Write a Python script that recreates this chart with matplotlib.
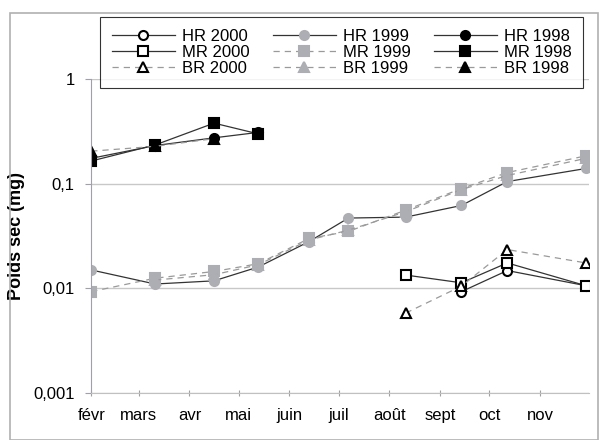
import numpy as np
import pandas as pd
import matplotlib
matplotlib.use("Agg")
import matplotlib.pyplot as plt
from matplotlib.patches import Rectangle

plt.rcParams['font.family'] = ['Liberation Sans', 'DejaVu Sans']

# sampling dates (day-month, plotted on a common year)
dates = ["02-01", "03-11", "04-16", "05-13", "06-13", "07-07", "08-11", "09-14", "10-12", "11-29"]
month_labels = ["févr", "mars", "avr", "mai", "juin", "juil", "août", "sept", "oct", "nov"]
nan = np.nan

# dry weight (mg)
hr2000 = [nan, nan, nan, nan, nan, nan, nan, 0.0093, 0.0148, 0.0106]
mr2000 = [nan, nan, nan, nan, nan, nan, 0.0134, 0.0113, 0.0175, 0.0106]
br2000 = [nan, nan, nan, nan, nan, nan, 0.0058, 0.0105, 0.0235, 0.0175]

hr1999 = [0.015, 0.011, 0.0118, 0.016, 0.028, 0.047, 0.048, 0.062, 0.105, 0.14]
mr1999 = [0.0093, 0.0125, 0.0145, 0.0172, 0.030, 0.035, 0.056, 0.09, 0.128, 0.185]
br1999 = [nan, 0.012, 0.0135, 0.0168, 0.029, 0.036, 0.054, 0.088, 0.12, 0.175]

hr1998 = [0.175, 0.232, 0.275, 0.31, nan, nan, nan, nan, nan, nan]
mr1998 = [0.165, 0.235, 0.38, 0.30, nan, nan, nan, nan, nan, nan]
br1998 = [0.205, 0.228, 0.27, nan, nan, nan, nan, nan, nan, nan]

x = pd.to_datetime(["2000-" + d for d in dates])

fig = plt.figure(figsize=(6, 4.4), dpi=100)
ax = fig.add_axes([0.152, 0.107, 0.830, 0.713])

grey = "#adadb4"
grey_line = "#9a9a9a"
dark = "#333333"
dash = (0, (5, 4))

series = [
    ("HR 2000", hr2000, dict(marker="o", mfc="white", mec="black", color=dark, ls="-")),
    ("MR 2000", mr2000, dict(marker="s", mfc="white", mec="black", color=dark, ls="-")),
    ("BR 2000", br2000, dict(marker="^", mfc="white", mec="black", color=grey_line, ls=dash)),
    ("HR 1999", hr1999, dict(marker="o", mfc=grey, mec=grey, color=dark, ls="-")),
    ("MR 1999", mr1999, dict(marker="s", mfc=grey, mec=grey, color=grey_line, ls=dash)),
    ("BR 1999", br1999, dict(marker="^", mfc=grey, mec=grey, color=grey_line, ls=dash)),
    ("HR 1998", hr1998, dict(marker="o", mfc="black", mec="black", color=dark, ls="-")),
    ("MR 1998", mr1998, dict(marker="s", mfc="black", mec="black", color=dark, ls="-")),
    ("BR 1998", br1998, dict(marker="^", mfc="black", mec="black", color=grey_line, ls=dash)),
]

for label, vals, st in series:
    v = np.array(vals, dtype=float)
    m = ~np.isnan(v)
    ax.plot(x[m], v[m], label=label, lw=0.9, ms=6.5, mew=1.5, **st)

ax.set_yscale("log")
ax.set_ylim(0.001, 1)
ax.set_yticks([0.001, 0.01, 0.1, 1])
ax.set_yticklabels(["0,001", "0,01", "0,1", "1"])
ax.minorticks_off()
ax.yaxis.grid(True, color="#c8c8c8", lw=1)

ax.set_xlim(pd.Timestamp("2000-02-01"), pd.Timestamp("2000-12-01"))
month_ticks = pd.date_range("2000-02-01", periods=10, freq="MS")
ax.set_xticks(month_ticks)
ax.set_xticklabels(month_labels)

for s in ["top", "right"]:
    ax.spines[s].set_visible(False)
ax.spines["left"].set_color("#a0a0aa")
ax.spines["bottom"].set_color("#c0c0c0")
ax.tick_params(axis="y", length=4, color="#a0a0aa", labelsize=12, pad=8)
ax.tick_params(axis="x", length=4, direction="inout", color="#a0a0a0", labelsize=12, pad=9)

ax.set_ylabel("Poids sec (mg)", fontsize=13, fontweight="bold", labelpad=6)

leg = fig.legend(loc="upper left", bbox_to_anchor=(100 / 600, 1 - 17 / 440), ncol=3,
                 fontsize=12, frameon=True, fancybox=False, edgecolor="black",
                 handlelength=3.8, labelspacing=0.08, columnspacing=1.4,
                 handletextpad=0.4, borderpad=0.7, borderaxespad=0)
leg.get_frame().set_linewidth(0.8)

# outer chart border
fig.patches.append(Rectangle((10 / 600, 0.0), 588 / 600, 1 - 13 / 440, transform=fig.transFigure,
                             fill=False, edgecolor="#b0b0b0", lw=1.2))

fig.savefig("out.png", dpi=100)
